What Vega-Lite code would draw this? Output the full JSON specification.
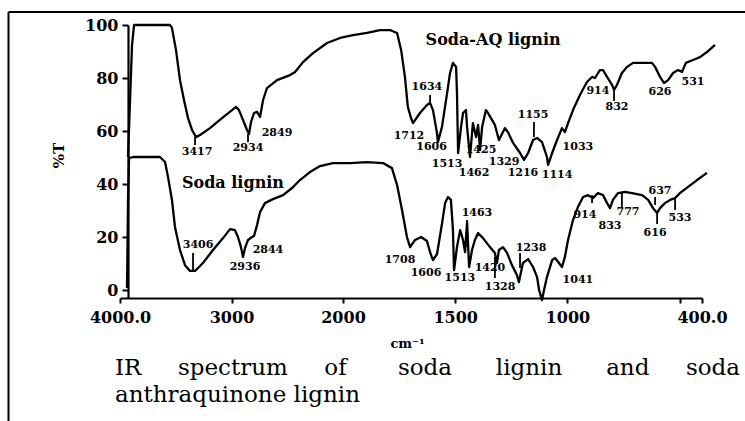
{
  "$schema": "https://vega.github.io/schema/vega-lite/v6.json",
  "autosize": "none",
  "width": 582,
  "height": 273,
  "padding": {"left": 120, "top": 25, "right": 43, "bottom": 123},
  "background": "white",
  "config": {
    "view": {"stroke": null},
    "axis": {
      "grid": false,
      "labelFont": "DejaVu Serif",
      "labelFontWeight": "bold",
      "labelFontSize": 16,
      "labelColor": "black",
      "domainColor": "black",
      "domainWidth": 2.2,
      "tickColor": "black",
      "tickWidth": 2,
      "titleFont": "DejaVu Serif",
      "titleFontWeight": "bold",
      "titleColor": "black"
    }
  },
  "datasets": {
    "spectra": [
      {"s":"Soda-AQ lignin","w":3928,"v":50.2},{"s":"Soda-AQ lignin","w":3910,"v":71.7},{"s":"Soda-AQ lignin","w":3892,"v":92.5},{"s":"Soda-AQ lignin","w":3874,"v":100},{"s":"Soda-AQ lignin","w":3552,"v":100},{"s":"Soda-AQ lignin","w":3534,"v":98.9},{"s":"Soda-AQ lignin","w":3498,"v":90.6},{"s":"Soda-AQ lignin","w":3462,"v":79.2},{"s":"Soda-AQ lignin","w":3426,"v":71.7},{"s":"Soda-AQ lignin","w":3390,"v":64.9},{"s":"Soda-AQ lignin","w":3354,"v":60.4},{"s":"Soda-AQ lignin","w":3318,"v":57.7},{"s":"Soda-AQ lignin","w":3282,"v":58.5},{"s":"Soda-AQ lignin","w":3193,"v":61.1},{"s":"Soda-AQ lignin","w":3085,"v":64.9},{"s":"Soda-AQ lignin","w":2995,"v":67.9},{"s":"Soda-AQ lignin","w":2960,"v":69.1},{"s":"Soda-AQ lignin","w":2933,"v":67.9},{"s":"Soda-AQ lignin","w":2897,"v":64.2},{"s":"Soda-AQ lignin","w":2861,"v":60.4},{"s":"Soda-AQ lignin","w":2843,"v":58.9},{"s":"Soda-AQ lignin","w":2825,"v":63.4},{"s":"Soda-AQ lignin","w":2798,"v":66.8},{"s":"Soda-AQ lignin","w":2771,"v":67.2},{"s":"Soda-AQ lignin","w":2744,"v":65.3},{"s":"Soda-AQ lignin","w":2717,"v":71.7},{"s":"Soda-AQ lignin","w":2682,"v":76.2},{"s":"Soda-AQ lignin","w":2592,"v":79.2},{"s":"Soda-AQ lignin","w":2475,"v":81.1},{"s":"Soda-AQ lignin","w":2430,"v":82.3},{"s":"Soda-AQ lignin","w":2359,"v":86.0},{"s":"Soda-AQ lignin","w":2269,"v":89.4},{"s":"Soda-AQ lignin","w":2143,"v":93.2},{"s":"Soda-AQ lignin","w":2027,"v":95.1},{"s":"Soda-AQ lignin","w":1955,"v":96.2},{"s":"Soda-AQ lignin","w":1893,"v":97.0},{"s":"Soda-AQ lignin","w":1835,"v":98.1},{"s":"Soda-AQ lignin","w":1791,"v":98.1},{"s":"Soda-AQ lignin","w":1759,"v":97.0},{"s":"Soda-AQ lignin","w":1741,"v":90.6},{"s":"Soda-AQ lignin","w":1724,"v":80.4},{"s":"Soda-AQ lignin","w":1711,"v":69.1},{"s":"Soda-AQ lignin","w":1697,"v":64.9},{"s":"Soda-AQ lignin","w":1688,"v":63.0},{"s":"Soda-AQ lignin","w":1657,"v":66.8},{"s":"Soda-AQ lignin","w":1626,"v":69.8},{"s":"Soda-AQ lignin","w":1612,"v":70.6},{"s":"Soda-AQ lignin","w":1599,"v":67.9},{"s":"Soda-AQ lignin","w":1581,"v":59.2},{"s":"Soda-AQ lignin","w":1577,"v":55.8},{"s":"Soda-AQ lignin","w":1559,"v":61.5},{"s":"Soda-AQ lignin","w":1536,"v":74.3},{"s":"Soda-AQ lignin","w":1523,"v":81.9},{"s":"Soda-AQ lignin","w":1510,"v":85.7},{"s":"Soda-AQ lignin","w":1496,"v":84.2},{"s":"Soda-AQ lignin","w":1492,"v":74.3},{"s":"Soda-AQ lignin","w":1487,"v":51.7},{"s":"Soda-AQ lignin","w":1474,"v":61.5},{"s":"Soda-AQ lignin","w":1465,"v":66.8},{"s":"Soda-AQ lignin","w":1452,"v":67.9},{"s":"Soda-AQ lignin","w":1447,"v":61.5},{"s":"Soda-AQ lignin","w":1434,"v":50.2},{"s":"Soda-AQ lignin","w":1421,"v":63.0},{"s":"Soda-AQ lignin","w":1407,"v":57.7},{"s":"Soda-AQ lignin","w":1398,"v":62.3},{"s":"Soda-AQ lignin","w":1389,"v":52.8},{"s":"Soda-AQ lignin","w":1380,"v":61.5},{"s":"Soda-AQ lignin","w":1363,"v":67.9},{"s":"Soda-AQ lignin","w":1354,"v":66.8},{"s":"Soda-AQ lignin","w":1323,"v":62.3},{"s":"Soda-AQ lignin","w":1305,"v":56.6},{"s":"Soda-AQ lignin","w":1278,"v":61.1},{"s":"Soda-AQ lignin","w":1265,"v":59.6},{"s":"Soda-AQ lignin","w":1242,"v":55.5},{"s":"Soda-AQ lignin","w":1211,"v":51.7},{"s":"Soda-AQ lignin","w":1193,"v":49.1},{"s":"Soda-AQ lignin","w":1175,"v":51.7},{"s":"Soda-AQ lignin","w":1153,"v":56.6},{"s":"Soda-AQ lignin","w":1135,"v":57.4},{"s":"Soda-AQ lignin","w":1113,"v":55.8},{"s":"Soda-AQ lignin","w":1091,"v":50.2},{"s":"Soda-AQ lignin","w":1086,"v":47.2},{"s":"Soda-AQ lignin","w":1068,"v":51.7},{"s":"Soda-AQ lignin","w":1046,"v":56.6},{"s":"Soda-AQ lignin","w":1024,"v":61.1},{"s":"Soda-AQ lignin","w":1011,"v":59.6},{"s":"Soda-AQ lignin","w":997,"v":63.0},{"s":"Soda-AQ lignin","w":975,"v":67.9},{"s":"Soda-AQ lignin","w":944,"v":73.6},{"s":"Soda-AQ lignin","w":913,"v":78.5},{"s":"Soda-AQ lignin","w":890,"v":80.4},{"s":"Soda-AQ lignin","w":877,"v":80.0},{"s":"Soda-AQ lignin","w":855,"v":83.0},{"s":"Soda-AQ lignin","w":841,"v":83.0},{"s":"Soda-AQ lignin","w":823,"v":80.4},{"s":"Soda-AQ lignin","w":801,"v":77.4},{"s":"Soda-AQ lignin","w":792,"v":75.5},{"s":"Soda-AQ lignin","w":779,"v":77.4},{"s":"Soda-AQ lignin","w":757,"v":81.9},{"s":"Soda-AQ lignin","w":734,"v":84.2},{"s":"Soda-AQ lignin","w":707,"v":85.7},{"s":"Soda-AQ lignin","w":623,"v":85.7},{"s":"Soda-AQ lignin","w":609,"v":84.2},{"s":"Soda-AQ lignin","w":587,"v":80.4},{"s":"Soda-AQ lignin","w":569,"v":78.1},{"s":"Soda-AQ lignin","w":551,"v":79.2},{"s":"Soda-AQ lignin","w":529,"v":81.9},{"s":"Soda-AQ lignin","w":507,"v":83.0},{"s":"Soda-AQ lignin","w":489,"v":82.3},{"s":"Soda-AQ lignin","w":472,"v":85.7},{"s":"Soda-AQ lignin","w":440,"v":86.8},{"s":"Soda-AQ lignin","w":409,"v":87.9},{"s":"Soda-AQ lignin","w":378,"v":89.8},{"s":"Soda-AQ lignin","w":342,"v":92.5},
      {"s":"Soda lignin","w":3937,"v":0.8},{"s":"Soda lignin","w":3928,"v":34.0},{"s":"Soda lignin","w":3919,"v":49.8},{"s":"Soda lignin","w":3883,"v":50.2},{"s":"Soda lignin","w":3641,"v":50.2},{"s":"Soda lignin","w":3596,"v":48.3},{"s":"Soda lignin","w":3569,"v":42.6},{"s":"Soda lignin","w":3534,"v":34.0},{"s":"Soda lignin","w":3507,"v":23.8},{"s":"Soda lignin","w":3462,"v":15.1},{"s":"Soda lignin","w":3417,"v":9.4},{"s":"Soda lignin","w":3372,"v":7.2},{"s":"Soda lignin","w":3327,"v":7.2},{"s":"Soda lignin","w":3256,"v":10.2},{"s":"Soda lignin","w":3166,"v":15.1},{"s":"Soda lignin","w":3076,"v":19.6},{"s":"Soda lignin","w":3013,"v":23.0},{"s":"Soda lignin","w":2969,"v":22.6},{"s":"Soda lignin","w":2942,"v":20.0},{"s":"Soda lignin","w":2915,"v":16.2},{"s":"Soda lignin","w":2897,"v":12.5},{"s":"Soda lignin","w":2879,"v":15.8},{"s":"Soda lignin","w":2852,"v":18.9},{"s":"Soda lignin","w":2816,"v":20.0},{"s":"Soda lignin","w":2798,"v":20.4},{"s":"Soda lignin","w":2771,"v":24.5},{"s":"Soda lignin","w":2744,"v":29.4},{"s":"Soda lignin","w":2700,"v":32.8},{"s":"Soda lignin","w":2628,"v":34.3},{"s":"Soda lignin","w":2538,"v":35.8},{"s":"Soda lignin","w":2457,"v":38.5},{"s":"Soda lignin","w":2386,"v":41.5},{"s":"Soda lignin","w":2296,"v":44.5},{"s":"Soda lignin","w":2206,"v":46.8},{"s":"Soda lignin","w":2090,"v":47.9},{"s":"Soda lignin","w":1969,"v":47.9},{"s":"Soda lignin","w":1893,"v":48.3},{"s":"Soda lignin","w":1822,"v":47.9},{"s":"Soda lignin","w":1782,"v":46.0},{"s":"Soda lignin","w":1759,"v":39.6},{"s":"Soda lignin","w":1737,"v":30.2},{"s":"Soda lignin","w":1715,"v":20.0},{"s":"Soda lignin","w":1701,"v":16.2},{"s":"Soda lignin","w":1679,"v":18.9},{"s":"Soda lignin","w":1652,"v":20.0},{"s":"Soda lignin","w":1626,"v":18.5},{"s":"Soda lignin","w":1612,"v":14.3},{"s":"Soda lignin","w":1599,"v":11.3},{"s":"Soda lignin","w":1581,"v":13.6},{"s":"Soda lignin","w":1559,"v":24.9},{"s":"Soda lignin","w":1545,"v":32.8},{"s":"Soda lignin","w":1532,"v":35.1},{"s":"Soda lignin","w":1519,"v":34.0},{"s":"Soda lignin","w":1510,"v":22.6},{"s":"Soda lignin","w":1505,"v":7.5},{"s":"Soda lignin","w":1492,"v":16.2},{"s":"Soda lignin","w":1478,"v":22.6},{"s":"Soda lignin","w":1465,"v":18.9},{"s":"Soda lignin","w":1456,"v":14.3},{"s":"Soda lignin","w":1447,"v":25.7},{"s":"Soda lignin","w":1438,"v":8.7},{"s":"Soda lignin","w":1425,"v":15.1},{"s":"Soda lignin","w":1412,"v":18.9},{"s":"Soda lignin","w":1398,"v":21.5},{"s":"Soda lignin","w":1376,"v":19.6},{"s":"Soda lignin","w":1345,"v":16.2},{"s":"Soda lignin","w":1323,"v":14.0},{"s":"Soda lignin","w":1314,"v":10.2},{"s":"Soda lignin","w":1305,"v":15.1},{"s":"Soda lignin","w":1287,"v":16.2},{"s":"Soda lignin","w":1269,"v":14.0},{"s":"Soda lignin","w":1247,"v":9.4},{"s":"Soda lignin","w":1225,"v":5.7},{"s":"Soda lignin","w":1216,"v":3.0},{"s":"Soda lignin","w":1198,"v":10.2},{"s":"Soda lignin","w":1175,"v":11.7},{"s":"Soda lignin","w":1153,"v":8.7},{"s":"Soda lignin","w":1135,"v":4.9},{"s":"Soda lignin","w":1126,"v":0},{"s":"Soda lignin","w":1113,"v":-3.8},{"s":"Soda lignin","w":1104,"v":0},{"s":"Soda lignin","w":1091,"v":4.9},{"s":"Soda lignin","w":1068,"v":11.3},{"s":"Soda lignin","w":1055,"v":12.1},{"s":"Soda lignin","w":1041,"v":10.6},{"s":"Soda lignin","w":1024,"v":8.7},{"s":"Soda lignin","w":1011,"v":12.5},{"s":"Soda lignin","w":997,"v":18.9},{"s":"Soda lignin","w":975,"v":26.4},{"s":"Soda lignin","w":953,"v":31.3},{"s":"Soda lignin","w":930,"v":35.1},{"s":"Soda lignin","w":908,"v":35.8},{"s":"Soda lignin","w":886,"v":34.7},{"s":"Soda lignin","w":864,"v":36.6},{"s":"Soda lignin","w":841,"v":35.8},{"s":"Soda lignin","w":823,"v":32.8},{"s":"Soda lignin","w":810,"v":30.9},{"s":"Soda lignin","w":797,"v":34.0},{"s":"Soda lignin","w":774,"v":36.6},{"s":"Soda lignin","w":743,"v":37.0},{"s":"Soda lignin","w":712,"v":36.6},{"s":"Soda lignin","w":667,"v":35.8},{"s":"Soda lignin","w":640,"v":34.0},{"s":"Soda lignin","w":618,"v":30.9},{"s":"Soda lignin","w":600,"v":29.1},{"s":"Soda lignin","w":587,"v":30.9},{"s":"Soda lignin","w":565,"v":32.8},{"s":"Soda lignin","w":542,"v":34.0},{"s":"Soda lignin","w":520,"v":34.7},{"s":"Soda lignin","w":498,"v":36.6},{"s":"Soda lignin","w":462,"v":38.9},{"s":"Soda lignin","w":422,"v":41.5},{"s":"Soda lignin","w":378,"v":44.2}
    ],
    "peaks": [
      {"t":"3417","w":3309,"v":52.1},{"t":"2934","w":2852,"v":53.6},{"t":"2849","w":2592,"v":59.2},{"t":"1634","w":1626,"v":76.6},{"t":"1712","w":1706,"v":58.1},{"t":"1606","w":1605,"v":54.0},{"t":"1513","w":1536,"v":47.6},{"t":"1462","w":1416,"v":44.2},{"t":"1425","w":1385,"v":52.8},{"t":"1329","w":1282,"v":48.3},{"t":"1216","w":1198,"v":44.2},{"t":"1155","w":1153,"v":66.0},{"t":"1114","w":1046,"v":43.4},{"t":"1033","w":953,"v":54.0},{"t":"914","w":864,"v":75.1},{"t":"832","w":779,"v":69.1},{"t":"626","w":587,"v":74.7},{"t":"531","w":440,"v":78.5},
      {"t":"3406","w":3300,"v":17.0},{"t":"2936","w":2879,"v":8.7},{"t":"2844","w":2673,"v":15.1},{"t":"1708","w":1746,"v":11.3},{"t":"1606","w":1630,"v":6.4},{"t":"1513","w":1479,"v":4.5},{"t":"1463","w":1403,"v":29.1},{"t":"1420","w":1345,"v":8.3},{"t":"1328","w":1300,"v":1.1},{"t":"1238","w":1162,"v":15.8},{"t":"1041","w":953,"v":3.8},{"t":"914","w":922,"v":28.3},{"t":"833","w":810,"v":24.2},{"t":"777","w":730,"v":29.4},{"t":"637","w":587,"v":37.4},{"t":"616","w":609,"v":21.5},{"t":"533","w":498,"v":27.2}
    ],
    "pointers": [
      {"w":3327,"v":57.7,"v2":54.7},{"w":2852,"v":58.9,"v2":55.8},{"w":1612,"v":73.6,"v2":70.6},{"w":1149,"v":63.4,"v2":57.7},{"w":792,"v":75.5,"v2":71.3},
      {"w":3345,"v":14.0,"v2":7.5},{"w":1447,"v":26.4,"v2":16.2},{"w":1211,"v":14.0,"v2":8.3},{"w":757,"v":36.6,"v2":31.3},{"w":609,"v":35.1,"v2":32.1},{"w":600,"v":29.1,"v2":24.9},{"w":520,"v":34.7,"v2":30.2},{"w":890,"v":35.8,"v2":32.8},{"w":1323,"v":12.5,"v2":4.5}
    ],
    "names": [
      {"t":"Soda-AQ lignin","w":1331,"v":94.3},
      {"t":"Soda lignin","w":2987,"v":40.4}
    ],
    "caption": [
      {"t":"IR\u00a0\u00a0\u00a0\u00a0\u00a0spectrum\u00a0\u00a0\u00a0\u00a0\u00a0of\u00a0\u00a0\u00a0\u00a0\u00a0\u00a0\u00a0soda\u00a0\u00a0\u00a0\u00a0\u00a0\u00a0lignin\u00a0\u00a0\u00a0\u00a0\u00a0\u00a0and\u00a0\u00a0\u00a0\u00a0\u00a0soda","w":4045,"v":-29.4},
      {"t":"anthraquinone lignin","w":4045,"v":-39.6}
    ],
    "frame": [
      {"w":5000,"w2":0,"v":104.9,"v2":104.9},
      {"w":5000,"w2":5000,"v":104.9,"v2":-49.4}
    ]
  },
  "layer": [
    {
      "data": {"name": "spectra"},
      "mark": {"type": "line", "color": "black", "strokeWidth": 2.3, "strokeJoin": "round"},
      "encoding": {
        "x": {
          "field": "w", "type": "quantitative",
          "scale": {"domain": [4000, 2000, 400], "range": [0, 223, 582], "nice": false, "zero": false},
          "axis": {
            "values": [4000, 3000, 2000, 1500, 1000, 500, 400],
            "labelExpr": "datum.value == 4000 ? '4000.0' : datum.value == 400 ? '400.0' : datum.value == 500 ? '' : format(datum.value, 'd')",
            "tickSize": 5,
            "labelPadding": 6,
            "labelFlush": false,
            "labelOverlap": false,
            "title": "cm\u207b\u00b9",
            "titleFontSize": 13,
            "titleX": 287,
            "titleY": 45,
            "titleAlign": "center",
            "titleBaseline": "middle"
          }
        },
        "y": {
          "field": "v", "type": "quantitative",
          "scale": {"domain": [-3, 100], "nice": false, "zero": false},
          "axis": {
            "values": [0, 10, 20, 30, 40, 50, 60, 70, 80, 90, 100],
            "offset": -8,
            "tickSize": 6,
            "labelPadding": 4,
            "labelFlush": false,
            "labelOverlap": false,
            "title": "%T",
            "titleFontSize": 15,
            "titleX": -70,
            "titleY": 130,
            "titleAngle": -90,
            "titleAlign": "center",
            "titleBaseline": "middle"
          }
        },
        "detail": {"field": "s"}
      }
    },
    {
      "data": {"name": "pointers"},
      "mark": {"type": "rule", "color": "black", "strokeWidth": 1.8},
      "encoding": {
        "x": {"field": "w", "type": "quantitative"},
        "y": {"field": "v", "type": "quantitative"},
        "y2": {"field": "v2"}
      }
    },
    {
      "data": {"name": "peaks"},
      "mark": {"type": "text", "font": "DejaVu Serif", "fontWeight": "bold", "fontSize": 11, "color": "black", "align": "center", "baseline": "middle"},
      "encoding": {
        "x": {"field": "w", "type": "quantitative"},
        "y": {"field": "v", "type": "quantitative"},
        "text": {"field": "t"}
      }
    },
    {
      "data": {"name": "names"},
      "mark": {"type": "text", "font": "DejaVu Serif", "fontWeight": "bold", "fontSize": 16, "color": "black", "align": "center", "baseline": "middle"},
      "encoding": {
        "x": {"field": "w", "type": "quantitative"},
        "y": {"field": "v", "type": "quantitative"},
        "text": {"field": "t"}
      }
    },
    {
      "data": {"name": "caption"},
      "mark": {"type": "text", "font": "DejaVu Serif", "fontSize": 23, "color": "black", "align": "left", "baseline": "middle"},
      "encoding": {
        "x": {"field": "w", "type": "quantitative"},
        "y": {"field": "v", "type": "quantitative"},
        "text": {"field": "t"}
      }
    },
    {
      "data": {"name": "frame"},
      "mark": {"type": "rule", "color": "black", "strokeWidth": 2},
      "encoding": {
        "x": {"field": "w", "type": "quantitative"},
        "x2": {"field": "w2"},
        "y": {"field": "v", "type": "quantitative"},
        "y2": {"field": "v2"}
      }
    }
  ]
}
